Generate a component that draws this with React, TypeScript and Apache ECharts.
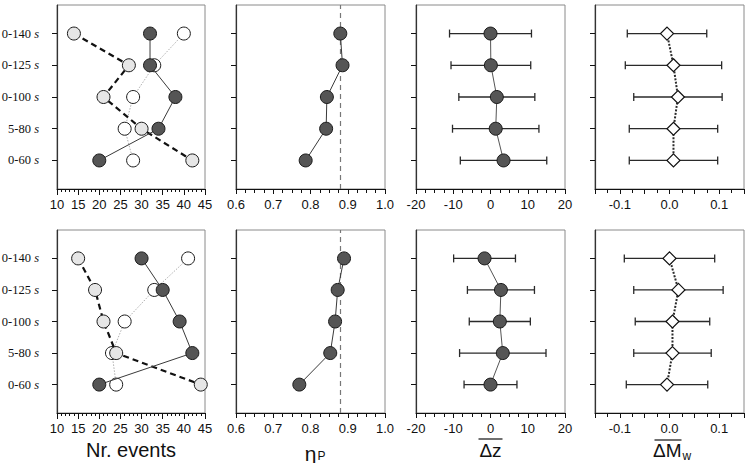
import React, { useEffect, useRef } from "react";
import * as echarts from "echarts";

// Rows, top to bottom, and their position on the vertical scale
const rowRanges = ["0-140", "0-125", "0-100", "5-80", "0-60"];
const rowUnit = "s";
const rowPos = [5, 4, 3, 2, 1];

// Number of events (upper set)
const eventsDarkTop = [32, 32, 38, 34, 20];
const eventsGrayTop = [14, 27, 21, 30, 42];
const eventsWhiteTop = [40, 33, 28, 26, 28];
// Number of events (lower set)
const eventsDarkBottom = [30, 35, 39, 42, 20];
const eventsGrayBottom = [15, 19, 21, 24, 44];
const eventsWhiteBottom = [41, 33, 26, 23, 24];

// eta_P
const etaTop = [0.88, 0.886, 0.844, 0.842, 0.787];
const etaBottom = [0.89, 0.873, 0.866, 0.853, 0.77];
const etaReference = 0.88;

// mean delta z with spread
const dzTop = [0, 0.1, 1.7, 1.4, 3.5];
const dzErrTop = [11, 10.7, 10.2, 11.6, 11.6];
const dzBottom = [-1.6, 2.8, 2.5, 3.3, 0];
const dzErrBottom = [8.3, 9.0, 8.2, 11.6, 7.1];

// mean delta Mw with spread
const dmTop = [-0.005, 0.008, 0.017, 0.008, 0.008];
const dmErrTop = [0.08, 0.097, 0.089, 0.089, 0.089];
const dmBottom = [0.0, 0.018, 0.006, 0.006, -0.005];
const dmErrBottom = [0.091, 0.09, 0.075, 0.078, 0.082];

// Panel layout
const COL_LEFT = [57, 236, 416, 595];
const COL_WIDTH = [148, 149, 149, 149];
const ROW_TOP = [5, 230];
const ROW_HEIGHT = [184, 183];

const INK = "#111";
const DARK_FILL = "#555555";
const LIGHT_FILL = "#e6e6e6";
const SANS = "'Liberation Sans', Arial, Helvetica, sans-serif";
const SERIF = "'Liberation Serif', 'Times New Roman', serif";

const pts = (values: number[]) => values.map((v, i) => [v, rowPos[i]]);
const errPts = (values: number[], errs: number[]) =>
  values.map((v, i) => [v, rowPos[i], errs[i]]);

type XSpec = {
  min: number;
  max: number;
  interval: number;
  minorSplit: number;
  majorLen: number;
  minorLen: number;
  fmt: (v: number) => string;
};

const xSpecs: XSpec[] = [
  { min: 10, max: 45, interval: 5, minorSplit: 5, majorLen: 6, minorLen: 3, fmt: (v) => String(v) },
  { min: 0.6, max: 1.0, interval: 0.1, minorSplit: 4, majorLen: 5, minorLen: 4, fmt: (v) => v.toFixed(1) },
  { min: -20, max: 20, interval: 10, minorSplit: 4, majorLen: 5, minorLen: 4, fmt: (v) => String(Math.round(v)) },
  {
    min: -0.15,
    max: 0.15,
    interval: 0.05,
    minorSplit: 2,
    majorLen: 5,
    minorLen: 4,
    fmt: (v) =>
      Math.abs(v) < 1e-9 || Math.abs(Math.abs(v) - 0.1) < 1e-9 ? v.toFixed(1) : "",
  },
];

function errorBars(idx: number, values: number[], errs: number[]) {
  return {
    type: "custom",
    xAxisIndex: idx,
    yAxisIndex: idx,
    z: 2,
    encode: { x: 0, y: 1 },
    data: errPts(values, errs),
    renderItem: (_params: any, api: any) => {
      const x = api.value(0);
      const y = api.value(1);
      const e = api.value(2);
      const a = api.coord([x - e, y]);
      const b = api.coord([x + e, y]);
      const cap = 4;
      const style = { stroke: "#2a2a2a", lineWidth: 1.3 };
      return {
        type: "group",
        children: [
          { type: "line", shape: { x1: a[0], y1: a[1], x2: b[0], y2: b[1] }, style },
          { type: "line", shape: { x1: a[0], y1: a[1] - cap, x2: a[0], y2: a[1] + cap }, style },
          { type: "line", shape: { x1: b[0], y1: b[1] - cap, x2: b[0], y2: b[1] + cap }, style },
        ],
      };
    },
  };
}

function circleLine(
  idx: number,
  values: number[],
  fill: string,
  lineStyle: any,
  z: number
) {
  return {
    type: "line",
    xAxisIndex: idx,
    yAxisIndex: idx,
    z,
    data: pts(values),
    symbol: "circle",
    symbolSize: 13,
    itemStyle: { color: fill, borderColor: "#1a1a1a", borderWidth: 1 },
    lineStyle,
  };
}

function buildOption() {
  const grids: any[] = [];
  const xAxes: any[] = [];
  const yAxes: any[] = [];
  for (let r = 0; r < 2; r++) {
    for (let c = 0; c < 4; c++) {
      const idx = r * 4 + c;
      grids.push({
        left: COL_LEFT[c],
        top: ROW_TOP[r],
        width: COL_WIDTH[c],
        height: ROW_HEIGHT[r],
        containLabel: false,
        outerBoundsMode: "none",
        show: true,
        borderColor: "#8a8a8a",
        borderWidth: 1,
        backgroundColor: "transparent",
      });
      const s = xSpecs[c];
      xAxes.push({
        type: "value",
        gridIndex: idx,
        position: "bottom",
        min: s.min,
        max: s.max,
        interval: s.interval,
        axisLine: { show: true, onZero: false, lineStyle: { color: INK, width: 1 } },
        axisTick: { show: true, inside: false, length: s.majorLen, lineStyle: { color: INK, width: 1 } },
        minorTick: { show: true, splitNumber: s.minorSplit, length: s.minorLen, lineStyle: { color: INK, width: 1 } },
        splitLine: { show: false },
        minorSplitLine: { show: false },
        axisLabel: {
          show: true,
          margin: 9,
          fontSize: 13,
          color: INK,
          fontFamily: SANS,
          showMinLabel: true,
          showMaxLabel: true,
          hideOverlap: false,
          formatter: s.fmt,
        },
      });
      yAxes.push({
        type: "value",
        gridIndex: idx,
        min: 0.1,
        max: 5.9,
        axisLine: { show: true, onZero: false, lineStyle: { color: "#333", width: 1.2 } },
        axisTick: {
          show: true,
          inside: false,
          length: 5,
          customValues: [1, 2, 3, 4, 5],
          lineStyle: { color: INK, width: 1 },
        },
        splitLine: { show: false },
        axisLabel: {
          show: c === 0,
          customValues: [1, 2, 3, 4, 5],
          margin: 18,
          fontSize: 12.5,
          fontFamily: SERIF,
          color: INK,
          formatter: (v: number) => {
            const i = rowPos.indexOf(Math.round(v));
            return i < 0 ? "" : `{n|${rowRanges[i]} }{u|${rowUnit}}`;
          },
          rich: {
            n: { fontSize: 12.5, fontFamily: SERIF, color: INK },
            u: { fontSize: 12.5, fontFamily: SERIF, fontStyle: "italic", color: INK },
          },
        },
      });
    }
  }

  const solidDark = { color: "#3a3a3a", width: 1, type: "solid" };
  const dashedBlack = { color: INK, width: 2.2, type: [6, 4] };
  const dottedLight = { color: "#b0b0b0", width: 1, type: [1.5, 1.5] };

  const series: any[] = [];
  const eventSets = [
    [eventsWhiteTop, eventsGrayTop, eventsDarkTop],
    [eventsWhiteBottom, eventsGrayBottom, eventsDarkBottom],
  ];
  const etaSets = [etaTop, etaBottom];
  const dzSets = [
    [dzTop, dzErrTop],
    [dzBottom, dzErrBottom],
  ];
  const dmSets = [
    [dmTop, dmErrTop],
    [dmBottom, dmErrBottom],
  ];

  for (let r = 0; r < 2; r++) {
    const base = r * 4;
    const [white, gray, dark] = eventSets[r];
    series.push(circleLine(base, white, "#ffffff", dottedLight, 3));
    series.push(circleLine(base, gray, LIGHT_FILL, dashedBlack, 4));
    series.push(circleLine(base, dark, DARK_FILL, solidDark, 5));

    const eta = circleLine(base + 1, etaSets[r], DARK_FILL, solidDark, 5) as any;
    eta.markLine = {
      silent: true,
      symbol: "none",
      label: { show: false },
      lineStyle: { color: "#777", width: 1.2, type: [5, 4] },
      data: [{ xAxis: etaReference }],
      z: 1,
    };
    series.push(eta);

    series.push(errorBars(base + 2, dzSets[r][0], dzSets[r][1]));
    series.push(circleLine(base + 2, dzSets[r][0], DARK_FILL, { color: "#555", width: 1 }, 5));

    series.push(errorBars(base + 3, dmSets[r][0], dmSets[r][1]));
    series.push({
      type: "line",
      xAxisIndex: base + 3,
      yAxisIndex: base + 3,
      z: 5,
      data: pts(dmSets[r][0]),
      symbol: "diamond",
      symbolSize: [13, 13],
      itemStyle: { color: "#ffffff", borderColor: INK, borderWidth: 1.2 },
      lineStyle: { color: "#2a2a2a", width: 2, type: [2, 1.5] },
    });
  }

  // Axis titles under the lower panels
  const titleY = 450;
  const cx = (c: number) => COL_LEFT[c] + COL_WIDTH[c] / 2;
  const titleStyle = { fill: INK, fontFamily: SANS, fontSize: 20 };
  const graphic: any[] = [
    {
      type: "text",
      x: cx(0),
      y: titleY,
      style: { ...titleStyle, text: "Nr. events", align: "center", verticalAlign: "middle" },
    },
    {
      type: "text",
      x: cx(1) + 6,
      y: titleY + 3,
      style: { ...titleStyle, text: "\u03b7", align: "right", verticalAlign: "middle", fontSize: 21 },
    },
    {
      type: "text",
      x: cx(1) + 7,
      y: titleY + 6,
      style: { ...titleStyle, text: "P", align: "left", verticalAlign: "middle", fontSize: 12 },
    },
    {
      type: "text",
      x: cx(2),
      y: titleY,
      style: { ...titleStyle, text: "\u0394z", align: "center", verticalAlign: "middle", fontSize: 19 },
    },
    {
      type: "line",
      shape: { x1: cx(2) - 12, y1: 439, x2: cx(2) + 12, y2: 439 },
      style: { stroke: INK, lineWidth: 1.2 },
    },
    {
      type: "text",
      x: cx(3) + 12,
      y: titleY,
      style: { ...titleStyle, text: "\u0394M", align: "right", verticalAlign: "middle", fontSize: 19 },
    },
    {
      type: "text",
      x: cx(3) + 13,
      y: titleY + 6,
      style: { ...titleStyle, text: "w", align: "left", verticalAlign: "middle", fontSize: 12 },
    },
    {
      type: "line",
      shape: { x1: cx(3) - 15, y1: 440, x2: cx(3) + 12, y2: 440 },
      style: { stroke: INK, lineWidth: 1.2 },
    },
  ];

  return {
    animation: false,
    backgroundColor: "#ffffff",
    grid: grids,
    xAxis: xAxes,
    yAxis: yAxes,
    series,
    graphic,
  };
}

export default function App() {
  const ref = useRef<HTMLDivElement>(null);
  useEffect(() => {
    if (!ref.current) return;
    const chart = echarts.init(ref.current, undefined, { renderer: "svg" });
    chart.setOption(buildOption() as any);
    return () => chart.dispose();
  }, []);
  return (
    <div
      ref={ref}
      style={{ position: "fixed", left: 0, top: 0, width: 750, height: 463 }}
    />
  );
}
